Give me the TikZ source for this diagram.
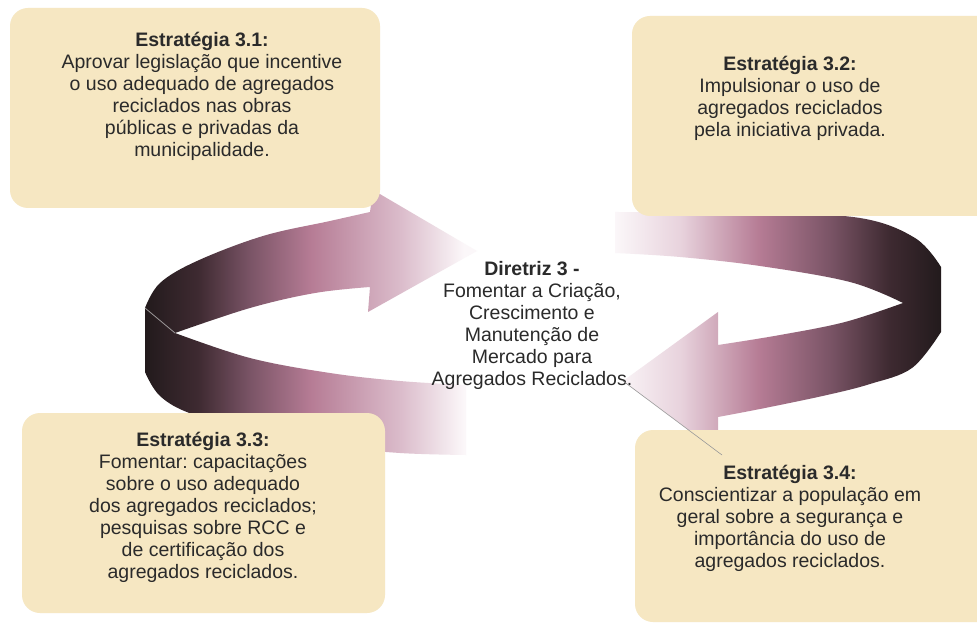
\documentclass[tikz,border=0pt]{standalone}
\usepackage{fontspec}
\setmainfont{Liberation Sans}
\frenchspacing
\definecolor{boxfill}{HTML}{F6E7C2}
\definecolor{txt}{HTML}{2A2A2A}
\definecolor{adark}{HTML}{221A1C}
\definecolor{adark2}{HTML}{3E2A31}
\definecolor{amidd}{HTML}{7A5466}
\definecolor{amid}{HTML}{B67C95}
\definecolor{alight2}{HTML}{DBBCCB}
\definecolor{alight3}{HTML}{E8D3DD}
\definecolor{alight}{HTML}{FBF7F9}
\pgfdeclarehorizontalshading{shL}{100bp}{color(0bp)=(adark); color(25bp)=(adark); color(33bp)=(adark2); color(40.8bp)=(amidd); color(50bp)=(amid); color(63.5bp)=(alight2); color(73bp)=(alight); color(100bp)=(alight)}
\pgfdeclarehorizontalshading{shR}{100bp}{color(0bp)=(alight); color(25bp)=(alight); color(35bp)=(alight3); color(47bp)=(amid); color(58bp)=(amidd); color(67bp)=(adark2); color(75bp)=(adark); color(100bp)=(adark)}
\begin{document}
\begin{tikzpicture}[x=1pt,y=-1pt,
  stratbox/.style={fill=boxfill, rounded corners=18pt},
  body/.style={text=txt, align=center, font=\fontsize{19.5}{22}\selectfont, inner sep=0pt},
  ringL/.style={shading=shL},
  ringR/.style={shading=shR},
]
\useasboundingbox (0,0) rectangle (977,628);
\clip (0,0) rectangle (977,628);
\fill[white] (0,0) rectangle (977,628);

% left ring arrow
\coordinate (ltip) at (477,251);
\path[ringL] (ltip) -- (373,190) -- (370,212)
  -- plot[smooth, tension=0.6] coordinates {(370,212) (330,221) (263,236) (197,261) (160,283) (145,308)}
  -- (145,372)
  -- plot[smooth, tension=0.6] coordinates {(145,372) (160,396) (192,414) (260,433) (330,446) (400,453) (466,455)}
  -- (466,385)
  -- plot[smooth, tension=0.6] coordinates {(466,385) (400,381) (330,373) (250,358) (175,333)}
  -- plot[smooth, tension=0.6] coordinates {(175,333) (250,308) (315,293) (370,287)}
  -- (368,312) -- cycle;
\draw[color=adark!45!white, line width=0.8pt] (145,308) -- (175,333);

% right ring arrow
\coordinate (rtip) at (623,381);
\path[ringR] (rtip) -- (718,312) -- (718,345)
  -- plot[smooth, tension=0.6] coordinates {(718,345) (780,335) (845,322) (903,303)}
  -- plot[smooth, tension=0.6] coordinates {(903,303) (850,282) (760,266) (680,257) (615,253)}
  -- (615,212)
  -- plot[smooth, tension=0.6] coordinates {(615,212) (760,213) (860,218) (915,238) (941,267)}
  -- (941,332)
  -- plot[smooth, tension=0.6] coordinates {(941,332) (912,368) (870,384) (827,395) (765,408) (718,417)}
  -- (718,452) -- cycle;

% boxes
\fill[stratbox] (10,8) rectangle (380,208);
\fill[stratbox] (632,16) rectangle (1000,216);
\fill[stratbox] (22,413) rectangle (385,613);
\fill[stratbox] (635,430) rectangle (1000,622);

% texts
\node[body] (t1) at (202,96) {\textbf{Estratégia 3.1:}\\Aprovar legislação que incentive\\o uso adequado de agregados\\reciclados nas obras\\públicas e privadas da\\municipalidade.};
\node[body] (t2) at (790,98) {\textbf{Estratégia 3.2:}\\Impulsionar o uso de\\agregados reciclados\\pela iniciativa privada.};
\node[body] (t3) at (203,507) {\textbf{Estratégia 3.3:}\\Fomentar: capacitações\\sobre o uso adequado\\dos agregados reciclados;\\pesquisas sobre RCC e\\de certificação dos\\agregados reciclados.};
\node[body] (t4) at (790,518) {\textbf{Estratégia 3.4:}\\Conscientizar a população em\\geral sobre a segurança e\\importância do uso de\\agregados reciclados.};
\node[body] (t0) at (532,325) {\textbf{Diretriz 3 -}\\Fomentar a Criação,\\Crescimento e\\Manutenção de\\Mercado para\\Agregados Reciclados.};

% thin stray line from right arrow tip
\coordinate (lend) at (722,455);
\draw[color=black!40, line width=0.6pt] (rtip) -- (lend);
\end{tikzpicture}
\end{document}
